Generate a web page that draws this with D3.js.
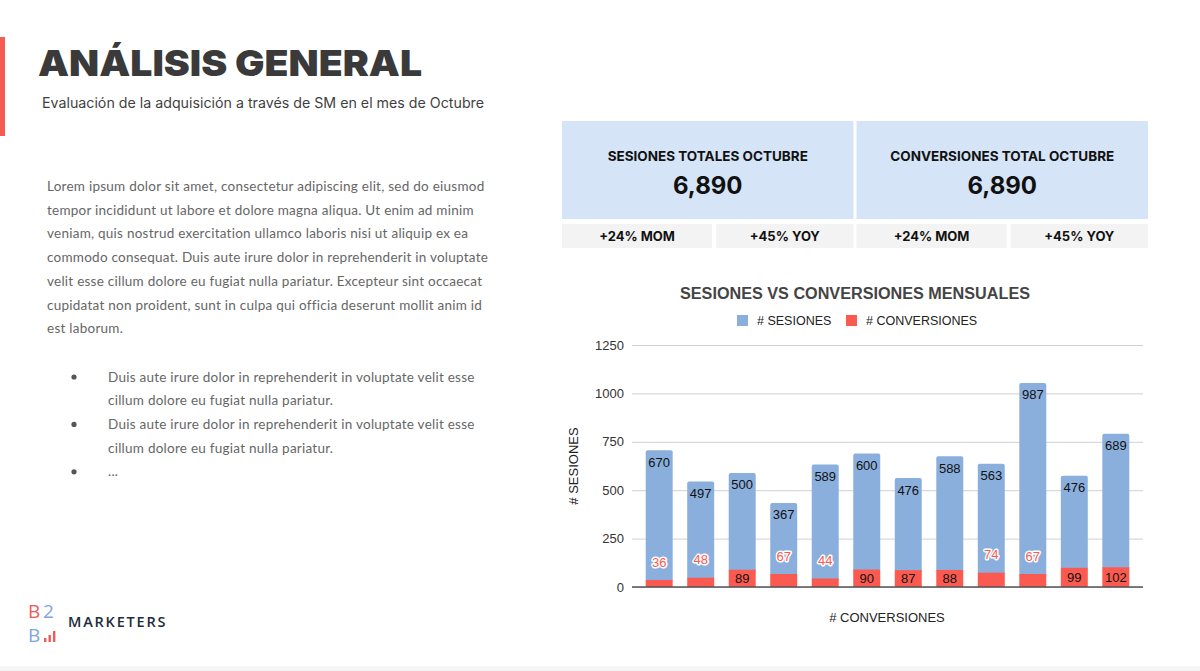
<!DOCTYPE html>
<html lang="es">
<head>
<meta charset="UTF-8">
<title>Análisis general</title>
<script src="https://d3js.org/d3.v7.min.js"></script>
<style>
  html, body { margin: 0; padding: 0; background: #fff; }
  svg { display: block; }
  .chart text { font-family: "Liberation Sans", Arial, sans-serif; }
</style>
</head>
<body>
<div id="page"></div>
<script>
// data
const months = ["Ene", "Feb", "Mar", "Abr", "May", "Jun", "Jul", "Ago", "Sep", "Oct", "Nov", "Dic"];
const sesiones = [670, 497, 500, 367, 589, 600, 476, 588, 563, 987, 476, 689];
const conversiones = [36, 48, 89, 67, 44, 90, 87, 88, 74, 67, 99, 102];
const yTicks = [0, 250, 500, 750, 1000, 1250];

const kpiTitles = ["SESIONES TOTALES OCTUBRE", "CONVERSIONES TOTAL OCTUBRE"];
const kpiValues = ["6,890", "6,890"];
const kpiDeltas = ["+24% MOM", "+45% YOY", "+24% MOM", "+45% YOY"];

const bodyLines = [
  "Lorem ipsum dolor sit amet, consectetur adipiscing elit, sed do eiusmod",
  "tempor incididunt ut labore et dolore magna aliqua. Ut enim ad minim",
  "veniam, quis nostrud exercitation ullamco laboris nisi ut aliquip ex ea",
  "commodo consequat. Duis aute irure dolor in reprehenderit in voluptate",
  "velit esse cillum dolore eu fugiat nulla pariatur. Excepteur sint occaecat",
  "cupidatat non proident, sunt in culpa qui officia deserunt mollit anim id",
  "est laborum."
];
const bullets = [
  ["Duis aute irure dolor in reprehenderit in voluptate velit esse", "cillum dolore eu fugiat nulla pariatur."],
  ["Duis aute irure dolor in reprehenderit in voluptate velit esse", "cillum dolore eu fugiat nulla pariatur."],
  ["..."]
];

const BLUE = "#8aafdc", RED = "#fb5a50";

const svg = d3.select("#page").append("svg")
  .attr("width", 1200).attr("height", 671);

svg.append("rect").attr("x", 0).attr("y", 666).attr("width", 1200).attr("height", 5).attr("fill", "#f6f6f6");

// header
svg.append("rect").attr("x", 0).attr("y", 37).attr("width", 5).attr("height", 99).attr("fill", "#f55a55");
svg.append("text")
  .attr("x", 38).attr("y", 76)
  .attr("font-family", "Inter, 'Open Sans', sans-serif")
  .attr("font-weight", 900).attr("font-size", 36)
  .attr("fill", "#3a3a3a")
  .attr("textLength", 384).attr("lengthAdjust", "spacingAndGlyphs")
  .text("ANÁLISIS GENERAL");
svg.append("text")
  .attr("x", 42).attr("y", 108)
  .attr("font-family", "Inter, 'Open Sans', sans-serif")
  .attr("font-size", 14).attr("fill", "#3f3f3f")
  .attr("textLength", 442).attr("lengthAdjust", "spacingAndGlyphs")
  .text("Evaluación de la adquisición a través de SM en el mes de Octubre");

// body copy
const body = svg.append("g")
  .attr("font-family", "Lato, 'Open Sans', sans-serif")
  .attr("font-size", 13.5).attr("fill", "#666");
body.selectAll("text.line").data(bodyLines).join("text")
  .attr("class", "line")
  .attr("x", 47).attr("y", (d, i) => 191 + i * 23.7)
  .attr("letter-spacing", 0.25)
  .text(d => d);

let row = 0;
bullets.forEach(b => {
  body.append("circle").attr("cx", 74).attr("cy", 377 + row * 23.7).attr("r", 2.6).attr("fill", "#555");
  b.forEach(line => {
    body.append("text").attr("x", 108).attr("y", 381.5 + row * 23.7)
      .attr("letter-spacing", 0.25).text(line);
    row++;
  });
});

// logo
const logo = svg.append("g").attr("font-family", "'Open Sans', sans-serif").attr("font-size", 19);
logo.append("text").attr("x", 28).attr("y", 618).attr("fill", "#f15a55").text("B");
logo.append("text").attr("x", 43).attr("y", 618).attr("fill", "#7ea6e0").text("2");
logo.append("text").attr("x", 28).attr("y", 642).attr("fill", "#7ea6e0").text("B");
[4, 7, 11].forEach((h, i) => {
  logo.append("rect").attr("x", 44 + i * 4.5).attr("y", 642 - h).attr("width", 2.4).attr("height", h).attr("fill", "#f15a55");
});
logo.append("text").attr("x", 68).attr("y", 627).attr("font-size", 14.5).attr("font-weight", 600)
  .attr("letter-spacing", 1.8).attr("fill", "#1e2c3a").text("MARKETERS");

// KPI cards
const kpi = svg.append("g").attr("font-family", "Inter, 'Open Sans', sans-serif").attr("text-anchor", "middle").attr("fill", "#111");
const cardX = d3.scaleBand().domain(d3.range(2)).range([562, 1148]).paddingInner(3 / 586 * 2);
kpiTitles.forEach((t, i) => {
  const x0 = cardX(i), w = cardX.bandwidth();
  kpi.append("rect").attr("x", x0).attr("y", 121).attr("width", w).attr("height", 98).attr("fill", "#d5e5f7");
  kpi.append("text").attr("x", x0 + w / 2).attr("y", 161).attr("font-size", 13.5).attr("font-weight", 700)
    .text(t);
  kpi.append("text").attr("x", x0 + w / 2).attr("y", 194).attr("font-size", 24).attr("font-weight", 700)
    .text(kpiValues[i]);
});
kpiDeltas.forEach((t, i) => {
  const card = Math.floor(i / 2), half = i % 2;
  const x0 = cardX(card), w = cardX.bandwidth();
  const split = w * 0.515;
  const bx = half === 0 ? x0 : x0 + split + 4;
  const bw = half === 0 ? split : w - split - 4;
  kpi.append("rect").attr("x", bx).attr("y", 224).attr("width", bw).attr("height", 24).attr("fill", "#f3f3f3");
  kpi.append("text").attr("x", bx + bw / 2).attr("y", 241).attr("font-size", 13).attr("font-weight", 700)
    .text(t);
});

// chart
const chart = svg.append("g").attr("class", "chart");
const margin = { left: 632, right: 1143, top: 345, bottom: 587 };

const x = d3.scaleBand().domain(months).range([margin.left, margin.right])
  .paddingInner(0.35).paddingOuter(0.33);
const y = d3.scaleLinear().domain([0, 1250]).range([margin.bottom, margin.top]);

chart.append("text").attr("x", 855).attr("y", 299).attr("text-anchor", "middle")
  .attr("font-size", 16).attr("font-weight", 700).attr("fill", "#444")
  .attr("textLength", 350).attr("lengthAdjust", "spacingAndGlyphs")
  .text("SESIONES VS CONVERSIONES MENSUALES");

// legend
const legend = [
  { label: "# SESIONES", color: BLUE, x: 737 },
  { label: "# CONVERSIONES", color: RED, x: 846 }
];
legend.forEach(l => {
  chart.append("rect").attr("x", l.x).attr("y", 315).attr("width", 11).attr("height", 11).attr("fill", l.color);
  chart.append("text").attr("x", l.x + 20).attr("y", 325).attr("font-size", 12.5).attr("fill", "#222").text(l.label);
});

// grid + y axis
const yAxis = d3.axisLeft(y).tickValues(yTicks).tickFormat(d3.format("d"))
  .tickSize(-(margin.right - margin.left)).tickPadding(8);
const ga = chart.append("g").attr("transform", `translate(${margin.left},0)`).call(yAxis);
ga.select(".domain").remove();
ga.selectAll(".tick line").attr("stroke", "#d0d0d0").attr("stroke-width", 1);
ga.selectAll(".tick text").attr("font-size", 13).attr("fill", "#333")
  .attr("font-family", "'Liberation Sans', Arial, sans-serif");

chart.append("text")
  .attr("transform", "translate(578,466) rotate(-90)")
  .attr("text-anchor", "middle").attr("font-size", 13).attr("fill", "#222")
  .text("# SESIONES");
chart.append("text").attr("x", 887).attr("y", 622).attr("text-anchor", "middle")
  .attr("font-size", 13).attr("fill", "#222").text("# CONVERSIONES");

const rows = months.map((m, i) => ({ m, s: sesiones[i], c: conversiones[i] }));

// blue (sesiones stacked above conversiones)
chart.selectAll("rect.ses").data(rows).join("rect")
  .attr("class", "ses")
  .attr("x", d => x(d.m)).attr("width", x.bandwidth())
  .attr("y", d => y(d.s + d.c))
  .attr("height", d => y(d.c) - y(d.s + d.c) + 2)
  .attr("rx", 2)
  .attr("fill", BLUE);
chart.selectAll("rect.conv").data(rows).join("rect")
  .attr("class", "conv")
  .attr("x", d => x(d.m)).attr("width", x.bandwidth())
  .attr("y", d => y(d.c))
  .attr("height", d => y(0) - y(d.c))
  .attr("fill", RED);

// baseline
chart.append("line").attr("x1", margin.left).attr("x2", margin.right)
  .attr("y1", y(0)).attr("y2", y(0)).attr("stroke", "#555").attr("stroke-width", 1.5);

// labels
chart.selectAll("text.ses-lbl").data(rows).join("text")
  .attr("class", "ses-lbl")
  .attr("x", d => x(d.m) + x.bandwidth() / 2)
  .attr("y", d => y(d.s + d.c) + 16.5)
  .attr("text-anchor", "middle").attr("font-size", 13).attr("fill", "#111")
  .text(d => d.s);

const fits = d => y(0) - y(d.c) >= 16;
chart.selectAll("text.conv-lbl").data(rows).join("text")
  .attr("class", "conv-lbl")
  .attr("x", d => x(d.m) + x.bandwidth() / 2)
  .attr("y", d => fits(d) ? (y(d.c) + y(0)) / 2 + 4.5 : y(d.c) - 13.5)
  .attr("text-anchor", "middle").attr("font-size", 13)
  .attr("fill", d => fits(d) ? "#111" : RED)
  .attr("stroke", d => fits(d) ? "none" : "#fff")
  .attr("stroke-width", 3).attr("paint-order", "stroke")
  .attr("stroke-linejoin", "round")
  .text(d => d.c);
</script>
</body>
</html>
